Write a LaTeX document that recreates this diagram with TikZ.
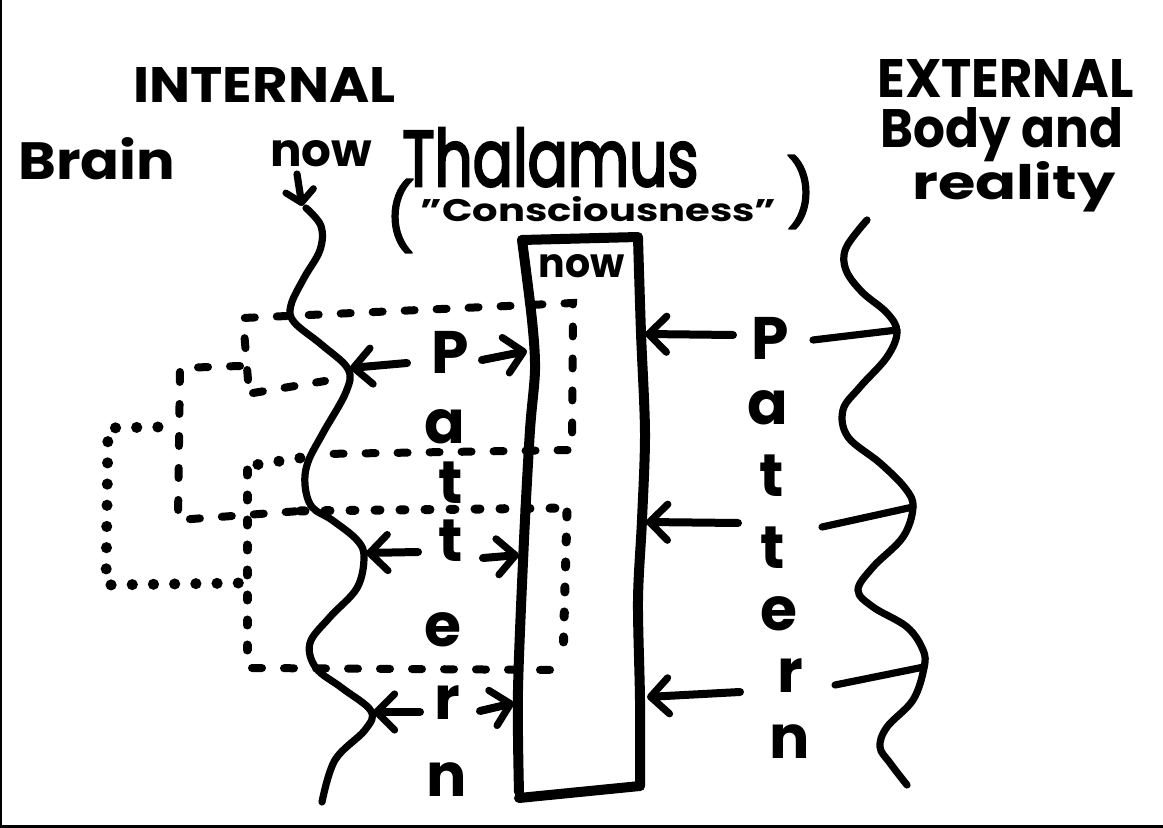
\documentclass[tikz,border=0pt]{standalone}
\usepackage{fontspec}
\usepackage{graphicx}
\setmainfont{Poppins}
\newcommand{\heavier}[2]{\special{pdf:literal direct 2 Tr #1 w}#2\special{pdf:literal direct 0 Tr}}
\usetikzlibrary{arrows.meta}
\tikzset{
  wave/.style={line width=3.6pt, line cap=round, line join=round},
  thal/.style={line width=5pt, line cap=round, line join=round},
  dsh/.style={line width=4pt, line cap=round, dash pattern=on 5pt off 11pt},
  sdsh/.style={line width=4.5pt, line cap=round, dash pattern=on 2.5pt off 10pt},
  dts/.style={line width=5.5pt, line cap=round, dash pattern=on 0.1pt off 10.5pt},
  arr/.style={line width=4pt, line cap=round,
    -{Straight Barb[length=9pt,width=18pt,line width=3.6pt,round]}},
  sarr/.style={line width=3.6pt, line cap=round,
    -{Straight Barb[length=6pt,width=14pt,line width=3.4pt,round]}},
  lab/.style={inner sep=0pt, anchor=base west},
  ltr/.style={inner sep=0pt, font=\fontsize{30}{30}\selectfont\bfseries},
  par/.style={inner sep=0pt, font=\fontsize{33}{33}\selectfont},
  frame/.style={line width=1.5pt}
}
\begin{document}
\begin{tikzpicture}[x=0.5pt,y=-0.5pt]
\useasboundingbox (0,0) rectangle (1163,828);
\fill[white] (0,0) rectangle (1163,828);
% scan frame
\draw[line width=1pt] (1,0) -- (1,828);
\draw[frame] (0,826.5) -- (1163,826.5);

% ---------- headings ----------
\node[lab] (internal) at (133,103) {\resizebox{131pt}{17.5pt}{\bfseries INTERNAL}};
\node[lab] (brain) at (18,180) {\resizebox{78.5pt}{21pt}{\bfseries Brain}};
\node[lab] (nowtop) at (270,167) {\resizebox{51pt}{13pt}{\bfseries now}};
\node[lab] (thalamus) at (402,186) {\resizebox{148pt}{29pt}{\heavier{0.35}{Thalamus}}};
\node[par] (lpar) at (400,216) {\heavier{0.7}{(}};
\node[lab] (consc) at (420,222) {\resizebox{178pt}{12.5pt}{\bfseries "Consciousness"}};
\node[par] (rpar) at (801,192) {\heavier{0.7}{)}};
\node[lab] (external) at (877,98) {\resizebox{128pt}{19pt}{\bfseries EXTERNAL}};
\node[lab] (body) at (880,148) {\resizebox{121.5pt}{20pt}{\bfseries Body and}};
\node[lab] (reality) at (912,200) {\resizebox{101.5pt}{19pt}{\bfseries reality}};

% ---------- thalamus box ----------
\draw[thal] plot[smooth] coordinates {(522,240) (532,320) (535,370) (530,430) (524,540) (518,690) (519,792)};
\draw[thal] plot[smooth] coordinates {(638,238) (641,333) (645,433) (642,520) (638,600) (640,700) (640,786)};
\draw[thal] (522,240) -- (638,237);
\draw[thal] (519,798) -- (640,786);
\node[lab] (nowbox) at (538,278) {\resizebox{43pt}{11.5pt}{\bfseries now}};

% ---------- dashed / dotted loops ----------
% loop 1
\draw[dsh] (253,393) -- (325,381);
\draw[dsh] (248,380) -- (243,318) -- (573,303) -- (572,450) -- (323,454);
\draw[dts] (300,458) -- (248,466);
% loop 2
\draw[dsh] (240,366) -- (180,368) -- (178,520) -- (300,511);
\draw[sdsh] (300,511) -- (572,508);
% loop 3
\draw[sdsh] (247,470) -- (247,667);
\draw[dsh] (252,668) -- (560,670);
\draw[sdsh] (567,512) -- (563,660);
% loop 4
\draw[dts] (158,427) -- (108,428) -- (106,585) -- (240,583);

% ---------- left wave (brain) ----------
\coordinate (nowtail) at (297,174);
\coordinate (w0) at (302,206);
\draw[sarr] (nowtail) -- (w0);
\draw[wave] plot[smooth, tension=0.6] coordinates {(306,208) (321,226) (320,250) (304,278) (291,305) (294,322) (322,345) (348,369) (346,392) (323,433) (308,462) (305,485) (312,507) (332,520) (357,540) (364,557) (357,588) (330,617) (310,643) (316,668) (342,688) (371,711) (365,730) (335,760) (322,802)};
\coordinate (w1) at (350,368);
\coordinate (w2) at (366,553);
\coordinate (w3) at (373,712);

% ---------- right wave (reality) ----------
\draw[wave] plot[smooth, tension=0.6] coordinates {(867,220) (846,248) (846,270) (862,292) (887,313) (897,332) (887,357) (860,387) (843,410) (848,437) (880,463) (905,488) (913,507) (903,537) (873,567) (858,590) (873,607) (907,627) (923,650) (924,668) (913,700) (887,727) (880,747) (890,763) (907,785)};
\coordinate (r1) at (897,330);
\coordinate (r2) at (913,507);
\coordinate (r3) at (924,667);

% ---------- left pattern letters ----------
\node[ltr] (lP) at (450,352) {P};
\node[ltr] (la) at (445,427) {a};
\node[ltr] (lt1) at (451,483) {t};
\node[ltr] (lt2) at (451,541) {t};
\node[ltr] (le) at (443,630) {e};
\node[ltr] (lr) at (447,703) {r};
\node[ltr] (ln) at (447,780) {n};

% ---------- right pattern letters ----------
\node[ltr] (rP) at (770,338) {P};
\node[ltr] (ra) at (768,408) {a};
\node[ltr] (rt1) at (772,476) {t};
\node[ltr] (rt2) at (773,548) {t};
\node[ltr] (re) at (779,614) {e};
\node[ltr] (rr) at (790,676) {r};
\node[ltr] (rn) at (790,742) {n};

% ---------- left arrows ----------
\coordinate (la1) at (407,363);
\coordinate (la2) at (418,552);
\coordinate (la3) at (420,712);
\coordinate (ra1) at (482,360);
\coordinate (ra2) at (483,558);
\coordinate (ra3) at (480,711);
\coordinate (tl1) at (527,351);
\coordinate (tl2) at (519,555);
\coordinate (tl3) at (514,703);
\draw[arr] (la1) -- (w1);
\draw[arr] (la2) -- (w2);
\draw[arr] (la3) -- (w3);
\draw[arr] (ra1) -- (tl1);
\draw[arr] (ra2) -- (tl2);
\draw[arr] (ra3) -- (tl3);

% ---------- right arrows ----------
\coordinate (rb1) at (733,335);
\coordinate (rb2) at (738,523);
\coordinate (rb3) at (740,692);
\coordinate (tr1) at (645,334);
\coordinate (tr2) at (646,522);
\coordinate (tr3) at (647,697);
\draw[arr] (rb1) -- (tr1);
\draw[arr] (rb2) -- (tr2);
\draw[arr] (rb3) -- (tr3);
\coordinate (rc1) at (813,340);
\coordinate (rc2) at (822,527);
\coordinate (rc3) at (835,685);
\draw[wave] (rc1) -- (r1);
\draw[wave] (rc2) -- (r2);
\draw[wave] (rc3) -- (r3);
\end{tikzpicture}
\end{document}
